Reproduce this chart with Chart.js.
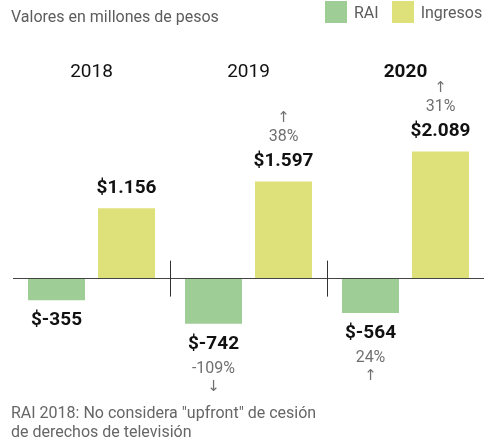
<!DOCTYPE html>
<html>
<head>
<meta charset="utf-8">
<script src="https://cdn.jsdelivr.net/npm/chart.js@4"></script>
<style>
  body { margin: 0; background: #fff; font-family: Roboto, sans-serif; }
  #wrap { position: relative; width: 485px; height: 438px; overflow: hidden; }
  #chart { position: absolute; left: 0; top: 0; }
  .title { position: absolute; left: 11px; top: 7px; font-size: 16px; line-height: 20px; color: #5c5c5c; }
  .legend { position: absolute; left: 325px; top: 1px; display: flex; align-items: center; font-size: 16px; color: #5c5c5c; }
  .legend .item { display: flex; align-items: center; margin-right: 13px; }
  .legend .item:last-child { margin-right: 0; }
  .legend .box { width: 22px; height: 22px; margin-right: 7px; }
  .note { position: absolute; left: 11px; top: 403px; font-size: 16px; line-height: 19px; color: #666; }
</style>
</head>
<body>
<div id="wrap">
  <canvas id="chart" width="485" height="438"></canvas>
  <div class="title">Valores en millones de pesos</div>
  <div class="legend" id="legend"></div>
  <div class="note">RAI 2018: No considera "upfront" de cesión<br>de derechos de televisión</div>
</div>
<script>
  var years = ['2018', '2019', '2020']
  var rai = [-355, -742, -564]
  var ingresos = [1156, 1597, 2089]
  // variación % respecto del año anterior
  var raiChange = [null, -109, 24]
  var ingresosChange = [null, 38, 31]

  var GREEN = '#9ecd96'
  var YELLOW = '#dee079'

  function money(v){
    var s = String(Math.abs(v)).replace(/\B(?=(\d{3})+(?!\d))/g, '.')
    return '$' + (v < 0 ? '-' : '') + s
  }

  var notesPlugin = {
    id: 'barNotes',
    afterDatasetsDraw: function(chart){
      var ctx = chart.ctx
      var x = chart.scales.x
      var base = chart.scales.y.getPixelForValue(0)
      ctx.save()
      ctx.textAlign = 'center'
      ctx.textBaseline = 'middle'

      chart.data.datasets.forEach(function(ds, di){
        var meta = chart.getDatasetMeta(di)
        meta.data.forEach(function(bar, i){
          var v = ds.data[i]
          var dir = v < 0 ? 1 : -1
          ctx.fillStyle = '#111'
          ctx.font = 'bold 19px Roboto'
          ctx.fillText(money(v), bar.x, bar.y + dir * 20.5)
          var ch = ds.changes[i]
          if (ch == null) return
          ctx.fillStyle = '#707070'
          ctx.font = '16px Roboto'
          ctx.fillText(ch + '%', bar.x, bar.y + dir * 45)
          ctx.font = '15px "DejaVu Sans"'
          ctx.fillText(ch < 0 ? '\u2193' : '\u2191', bar.x, bar.y + dir * 63)
        })
      })

      // separadores entre años sobre la línea base
      ctx.strokeStyle = '#333'
      ctx.lineWidth = 1
      for (var i = 1; i < years.length; i++){
        var sx = Math.round((x.getPixelForValue(i - 1) + x.getPixelForValue(i)) / 2) + 0.5
        ctx.beginPath()
        ctx.moveTo(sx, base - 18)
        ctx.lineTo(sx, base + 18)
        ctx.stroke()
      }
      ctx.restore()
    }
  }

  var chart = new Chart(document.getElementById('chart'), {
    type: 'bar',
    data: {
      labels: years,
      datasets: [
        { label: 'RAI', data: rai, changes: raiChange, backgroundColor: GREEN },
        { label: 'Ingresos', data: ingresos, changes: ingresosChange, backgroundColor: YELLOW }
      ]
    },
    options: {
      responsive: false,
      animation: false,
      events: [],
      categoryPercentage: 0.892,
      barPercentage: 0.814,
      layout: { padding: { left: 13, right: 1, top: 48.6, bottom: 98.6 } },
      plugins: { legend: { display: false }, tooltip: { enabled: false } },
      scales: {
        x: {
          position: 'top',
          grid: { display: false, drawTicks: false },
          border: { display: false },
          ticks: {
            padding: 12.4,
            color: '#111',
            font: function(c){
              return { family: 'Roboto', size: 19, weight: c.index === years.length - 1 ? 'bold' : 'normal' }
            }
          }
        },
        y: {
          min: -1000,
          max: 3000,
          ticks: { display: false, stepSize: 1000 },
          border: { display: false },
          grid: {
            drawTicks: false,
            color: function(c){ return c.tick && c.tick.value === 0 ? '#444' : 'rgba(0,0,0,0)' }
          }
        }
      }
    },
    plugins: [notesPlugin]
  })

  // leyenda a partir de los datasets
  var legend = document.getElementById('legend')
  chart.data.datasets.forEach(function(ds){
    var item = document.createElement('div')
    item.className = 'item'
    item.innerHTML = '<span class="box" style="background:' + ds.backgroundColor + '"></span>' + ds.label
    legend.appendChild(item)
  })
</script>
</body>
</html>
